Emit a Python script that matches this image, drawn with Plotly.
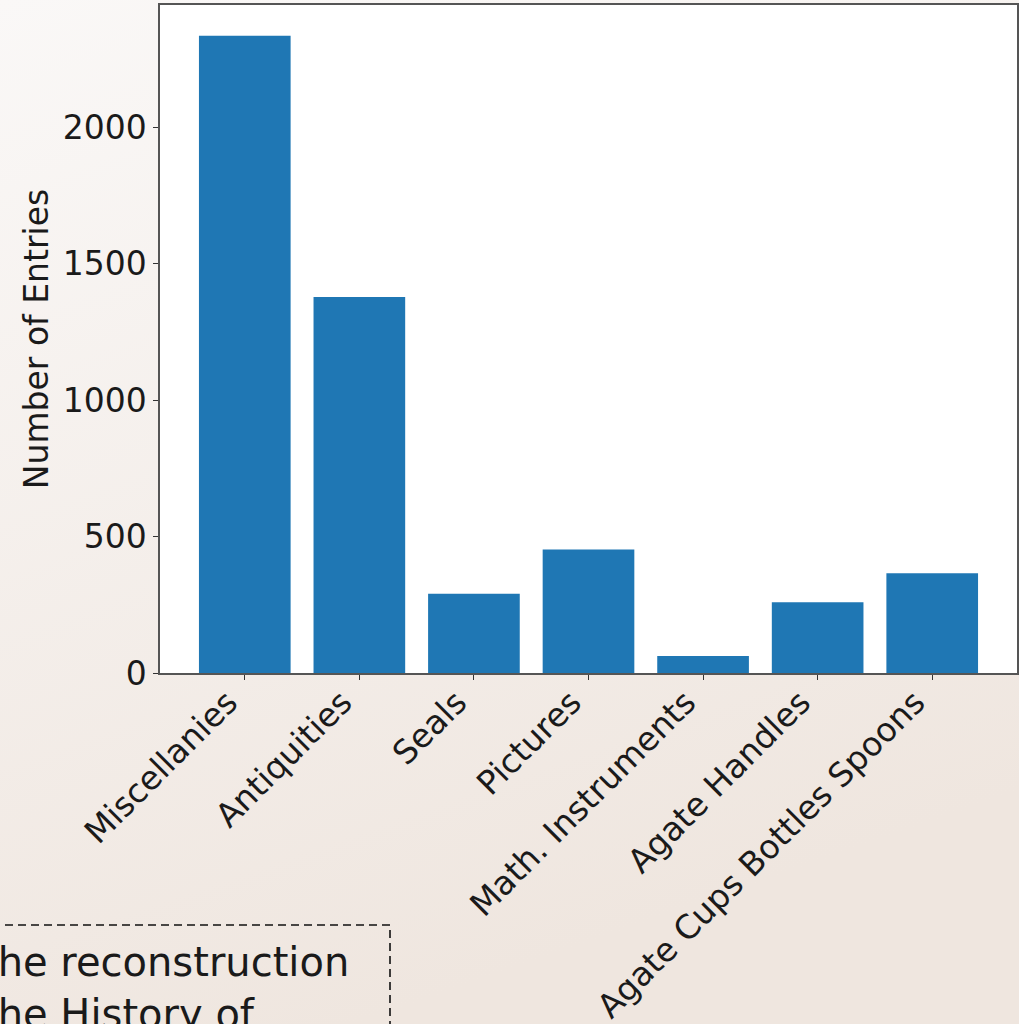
import base64
import plotly.graph_objects as go

categories = ["Miscellanies", "Antiquities", "Seals", "Pictures",
              "Math. Instruments", "Agate Handles", "Agate Cups Bottles Spoons"]
entries = [2334, 1377, 290, 452, 62, 259, 365]
y_ticks = [0, 500, 1000, 1500, 2000]

W, H = 1019, 1024
ML, MR, MT, MB = 160, 2, 5, 351
PW, PH = W - ML - MR, H - MT - MB

def px_x(px):
    return (px - ML) / PW

def px_y(py):
    return 1 - (py - MT) / PH

svg = f'''<svg xmlns="http://www.w3.org/2000/svg" width="{W}" height="{H}">
<defs><linearGradient id="g" x1="0" y1="0" x2="0.35" y2="1">
<stop offset="0" stop-color="#faf8f7"/><stop offset="1" stop-color="#efe6df"/>
</linearGradient></defs><rect width="{W}" height="{H}" fill="url(#g)"/></svg>'''
bg_src = "data:image/svg+xml;base64," + base64.b64encode(svg.encode()).decode()

fig = go.Figure()
fig.add_trace(go.Bar(x=list(range(len(categories))), y=entries, width=0.8,
                     marker=dict(color="#1f77b4", line=dict(width=0))))

font = dict(family="DejaVu Sans", size=33, color="#1a1a1a")

fig.update_layout(
    width=W, height=H,
    margin=dict(l=ML, r=MR, t=MT, b=MB, autoexpand=False),
    paper_bgcolor="#f4eee9",
    plot_bgcolor="#ffffff",
    showlegend=False,
    bargap=0.2,
    font=font,
    images=[dict(source=bg_src, xref="paper", yref="paper",
                 x=px_x(0), y=px_y(0), sizex=W / PW, sizey=H / PH,
                 xanchor="left", yanchor="top", sizing="stretch", layer="below")],
    xaxis=dict(
        range=[-0.74, 6.74],
        tickmode="array", tickvals=list(range(len(categories))), ticktext=categories,
        tickangle=-45, ticks="outside", ticklen=5, tickwidth=1.2, tickcolor="#333",
        ticklabelshift=-17, ticklabelstandoff=-10,
        showline=True, linecolor="#555", linewidth=1.5, mirror=True,
        showgrid=False, zeroline=False, tickfont=font,
    ),
    yaxis=dict(
        range=[0, 2447],
        tickmode="array", tickvals=y_ticks, ticktext=[str(v) for v in y_ticks],
        ticks="outside", ticklen=5, tickwidth=1.2, tickcolor="#333",
        showline=True, linecolor="#555", linewidth=1.5, mirror=True,
        showgrid=False, zeroline=False, tickfont=font,
        title=dict(text="Number of Entries", font=font, standoff=4),
    ),
    shapes=[
        dict(type="rect", xref="paper", yref="paper", x0=0, x1=1, y0=0, y1=1,
             line=dict(width=0), fillcolor="#ffffff", layer="below"),
        dict(type="rect", xref="paper", yref="paper",
             x0=px_x(-20), x1=px_x(390), y0=px_y(1100), y1=px_y(925),
             line=dict(color="#111", width=1.6, dash="8px,5px"),
             fillcolor="rgba(0,0,0,0)", layer="above"),
    ],
    annotations=[dict(text="the reconstruction<br>the History of",
                      xref="paper", yref="paper", x=px_x(-20), y=px_y(937),
                      xanchor="left", yanchor="top", align="left", showarrow=False,
                      font=dict(family="DejaVu Sans", size=40, color="#1a1a1a"))],
)

fig.write_html("out.html", config={"displayModeBar": False},
               post_script="document.body.style.margin='0';document.body.style.overflow='hidden';")
